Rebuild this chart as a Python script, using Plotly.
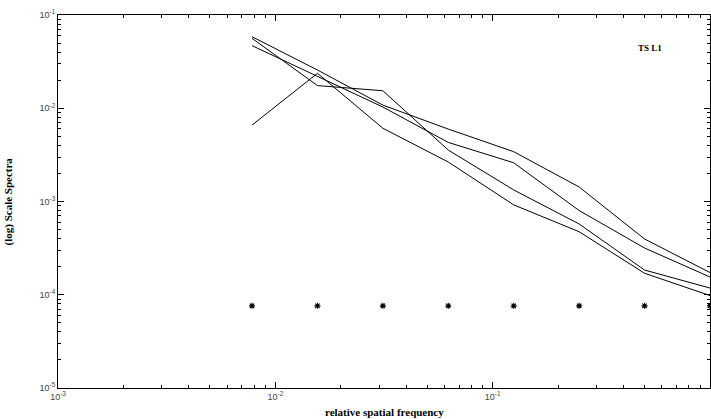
import plotly.graph_objects as go

freq = [2**-7, 2**-6, 2**-5, 2**-4, 2**-3, 2**-2, 2**-1, 2**0]
series_a = [0.0585, 0.0257, 0.0108, 0.00598, 0.00342, 0.00143, 0.000396, 0.000173]
series_b = [0.0469, 0.0222, 0.0103, 0.0043, 0.0026, 0.00080, 0.000317, 0.000155]
series_c = [0.0562, 0.0175, 0.0154, 0.00356, 0.00133, 0.000574, 0.000184, 0.000118]
series_d = [0.0066, 0.0237, 0.0061, 0.00265, 0.00092, 0.000474, 0.000170, 0.000098]
marker_level = [7.6e-5] * 8

x_ticks = [1e-3, 1e-2, 1e-1, 1]
x_ticktext = ["10<sup>-3</sup>", "10<sup>-2</sup>", "10<sup>-1</sup>", "10<sup>0</sup>"]
y_ticks = [1e-5, 1e-4, 1e-3, 1e-2, 1e-1]
y_ticktext = ["10<sup>-5</sup>", "10<sup>-4</sup>", "10<sup>-3</sup>", "10<sup>-2</sup>", "10<sup>-1</sup>"]
x_minor = [m * 10.0**e for e in (-3, -2, -1) for m in range(2, 10)]
y_minor = [m * 10.0**e for e in (-5, -4, -3, -2) for m in range(2, 10)]

fig = go.Figure()
for s in [series_a, series_b, series_c, series_d]:
    fig.add_trace(go.Scatter(x=freq, y=s, mode="lines",
                             line=dict(color="black", width=1), showlegend=False))
fig.add_trace(go.Scatter(x=freq, y=marker_level, mode="markers", xaxis="x2", yaxis="y2",
                         marker=dict(symbol="asterisk-open", size=5, color="black",
                                     line=dict(color="#111", width=1.1)),
                         showlegend=False))

tickfont = dict(family="Liberation Sans, Arial", size=9, color="#444")
minor_common = dict(type="log", showgrid=False, zeroline=False, showline=True,
                    linecolor="black", linewidth=1, mirror="allticks",
                    ticks="inside", ticklen=3, tickcolor="black", tickwidth=1,
                    tickmode="array", showticklabels=False)
major_common = dict(type="log", showgrid=False, zeroline=False, showline=True,
                    linecolor="black", linewidth=1, mirror="allticks",
                    ticks="inside", ticklen=6, tickcolor="black", tickwidth=1,
                    tickmode="array", tickfont=tickfont)

title_font = dict(family="Liberation Serif, Times New Roman", size=11, color="black")
fig.update_layout(
    width=711, height=419,
    margin=dict(l=58, r=1, t=15, b=31),
    plot_bgcolor="white", paper_bgcolor="white",
    xaxis=dict(range=[-3, 0], tickvals=x_minor, **minor_common),
    yaxis=dict(range=[-5, -1], tickvals=y_minor, **minor_common),
    xaxis2=dict(range=[-3, 0], tickvals=x_ticks, ticktext=x_ticktext,
                overlaying="x", side="bottom", anchor="y2", **major_common),
    yaxis2=dict(range=[-5, -1], tickvals=y_ticks, ticktext=y_ticktext,
                overlaying="y", side="left", anchor="x2", **major_common),
    annotations=[
        dict(text="<b>relative spatial frequency</b>", x=0.5, y=0, xref="paper", yref="paper",
             xanchor="center", yanchor="top", yshift=-16, showarrow=False, font=title_font),
        dict(text="<b>(log) Scale Spectra</b>", x=0, y=0.5, xref="paper", yref="paper",
             xanchor="center", yanchor="middle", xshift=-50, textangle=-90,
             showarrow=False, font=title_font),
        dict(text="<b>TS L1</b>", x=0.908, y=0.9115, xref="paper", yref="paper",
             xanchor="center", yanchor="middle", showarrow=False,
             font=dict(family="Liberation Serif, Times New Roman", size=9, color="black")),
    ],
)

fig.write_html("out.html")
